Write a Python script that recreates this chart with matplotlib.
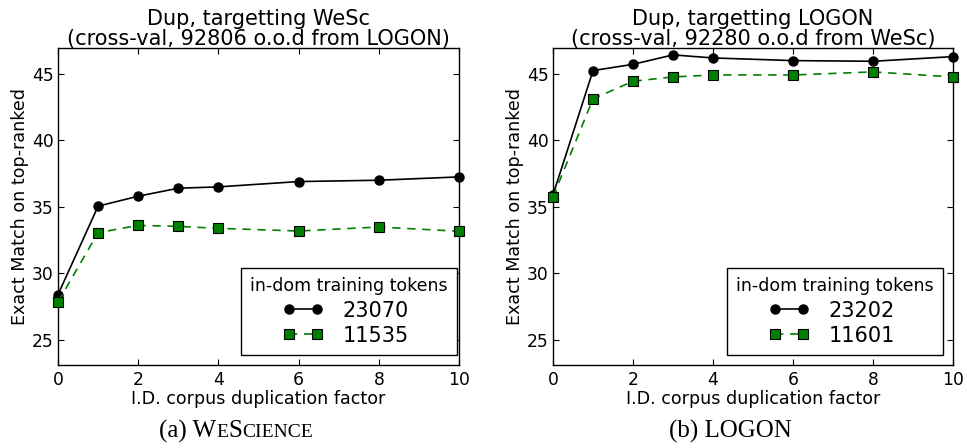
import matplotlib
matplotlib.use("Agg")
import matplotlib.pyplot as plt
from matplotlib.lines import Line2D
from matplotlib.legend_handler import HandlerLine2D
from matplotlib.offsetbox import TextArea, HPacker, AnchoredOffsetbox

dup_factor = [0, 1, 2, 3, 4, 6, 8, 10]

wesc_23070 = [28.4, 35.05, 35.8, 36.4, 36.5, 36.9, 37.0, 37.25]
wesc_11535 = [27.85, 33.06, 33.6, 33.53, 33.38, 33.18, 33.48, 33.16]

logon_23202 = [35.9, 45.25, 45.72, 46.43, 46.2, 46.0, 45.95, 46.3]
logon_11601 = [35.75, 43.12, 44.45, 44.77, 44.92, 44.92, 45.15, 44.77]

titles = ["Dup, targetting WeSc\n(cross-val, 92806 o.o.d from LOGON)",
          "Dup, targetting LOGON\n(cross-val, 92280 o.o.d from WeSc)"]
labels = [["23070", "11535"], ["23202", "11601"]]
series = [[wesc_23070, wesc_11535], [logon_23202, logon_11601]]
xticks = [0, 2, 4, 6, 8, 10]
yticks = [25, 30, 35, 40, 45]

plt.rcParams['font.family'] = ['DejaVu Sans']

fig = plt.figure(figsize=(9.67, 4.48), dpi=100)
axes_rects = [[0.060, 0.1853, 0.4147, 0.7076], [0.5719, 0.1853, 0.4137, 0.7076]]
leg_anchor = [(0.995, 0.031), (0.975, 0.031)]

for i in range(2):
    ax = fig.add_axes(axes_rects[i])
    s1, s2 = series[i]
    ax.plot(dup_factor, s1, '-', color='black', marker='o', markersize=6.5,
            linewidth=1.2, label=labels[i][0], clip_on=False, zorder=3)
    ax.plot(dup_factor, s2, '--', color='green', marker='s', markersize=6.5,
            markerfacecolor='green', markeredgecolor='black', markeredgewidth=0.8,
            linewidth=1.2, dashes=(5, 4), label=labels[i][1], clip_on=False, zorder=3)
    ax.set_xlim(0, 10)
    ax.set_ylim(23.1, 46.95)
    ax.set_xticks(xticks)
    ax.set_yticks(yticks)
    ax.tick_params(direction='in', top=True, right=True, length=4, width=0.8,
                   labelsize=12.3)
    ax.tick_params(axis='y', pad=3)
    ax.tick_params(axis='x', pad=4)
    for sp in ax.spines.values():
        sp.set_linewidth(1.0)
    ax.set_xlabel("I.D. corpus duplication factor", fontsize=12.6, labelpad=1)
    ax.set_ylabel("Exact Match on top-ranked", fontsize=12.6, labelpad=2.5)
    ax.set_title(titles[i], fontsize=15, pad=2, linespacing=1.0)
    leg = ax.legend(title="in-dom training tokens", loc='lower right',
                    bbox_to_anchor=leg_anchor[i], fontsize=15, title_fontsize=12.5,
                    handler_map={Line2D: HandlerLine2D(marker_pad=0.0, numpoints=2)},
                    handlelength=1.35, fancybox=False, framealpha=1,
                    edgecolor='black', borderpad=0.45, labelspacing=0.25,
                    handletextpad=1.2, borderaxespad=0)
    leg.get_frame().set_linewidth(1.0)

serif = ['Liberation Serif', 'DejaVu Serif']

def caption(parts, x, y):
    boxes = [TextArea(t, textprops=dict(fontsize=fs, family=serif)) for t, fs in parts]
    pack = HPacker(children=boxes, align='baseline', pad=0, sep=0)
    ab = AnchoredOffsetbox(loc='center', child=pack, frameon=False,
                           bbox_to_anchor=(x, y), bbox_transform=fig.transFigure,
                           borderpad=0, pad=0)
    fig.add_artist(ab)

caption([("(a) W", 18), ("E", 14), ("S", 18), ("CIENCE", 14)], 236 / 967, 1 - 431 / 448)
caption([("(b) LOGON", 18)], 730 / 967, 1 - 431 / 448)

fig.savefig("out.png", dpi=100)
